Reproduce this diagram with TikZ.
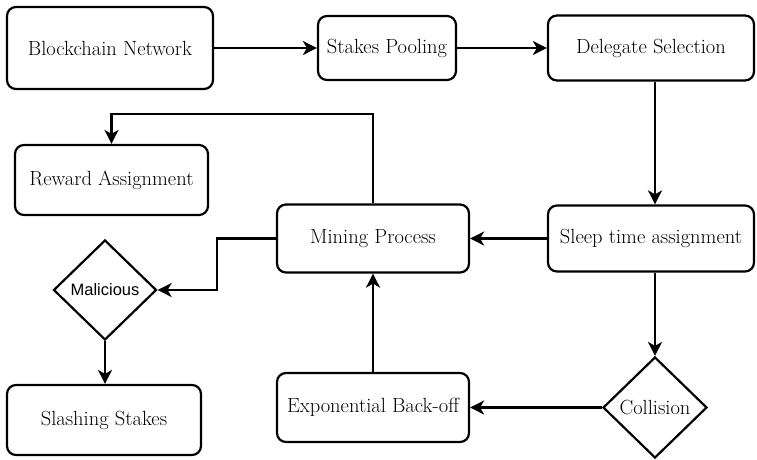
\documentclass[tikz,border=0pt]{standalone}
\usepackage{fontspec}
\newfontfamily\decfont{Liberation Sans}
\usetikzlibrary{arrows.meta,shapes.geometric}

\begin{document}
\begin{tikzpicture}[x=1pt, y=-1pt,
  box/.style={draw=black, line width=2.2pt, rounded corners=9pt, inner sep=0pt, align=center, font=\fontsize{20.5}{24}\selectfont},
  decision/.style={diamond, draw=black, line width=2.2pt, inner sep=0pt, aspect=1, align=center},
  arrow/.style={-{Stealth[length=14pt, width=14pt, inset=4pt]}, black, line width=2.2pt}
]
  \useasboundingbox (0,0) rectangle (757,459);

  % Top row
  \node[box, minimum width=206pt, minimum height=82pt] (chain) at (110,48) {Blockchain Network};
  \node[box, minimum width=138pt, minimum height=64pt] (pool) at (387,48) {Stakes Pooling};
  \node[box, minimum width=206pt, minimum height=65pt] (deleg) at (651,48) {Delegate Selection};

  % Middle row
  \node[box, minimum width=193pt, minimum height=70pt] (reward) at (111.5,180) {Reward Assignment};
  \node[box, minimum width=192pt, minimum height=68pt] (mine) at (373,238.5) {Mining Process};
  \node[box, minimum width=206pt, minimum height=66pt] (sleep) at (651,238.5) {Sleep time assignment};

  % Bottom row
  \node[decision, minimum width=103pt, minimum height=100pt, font=\decfont\fontsize{16.5}{20}\selectfont] (malic) at (105,290) {Malicious};
  \node[box, minimum width=194pt, minimum height=70pt] (slash) at (104,420) {Slashing Stakes};
  \node[box, minimum width=192pt, minimum height=69pt] (expo) at (373,407.5) {Exponential Back-off};
  \node[decision, minimum width=104pt, minimum height=101pt, font=\fontsize{20.5}{24}\selectfont] (coll) at (655,407.5) {Collision};

  \coordinate (rewturn) at (373,114);
  \coordinate (malturn) at (217,238.5);

  \draw[arrow] (chain) -- (pool);
  \draw[arrow] (pool) -- (deleg);
  \draw[arrow] (deleg.south -| coll) -- (sleep.north -| coll);
  \draw[arrow] (sleep) -- (mine);
  \draw[arrow] (sleep.south -| coll) -- (coll.north);
  \draw[arrow] (coll) -- (expo);
  \draw[arrow] (expo) -- (mine);
  \draw[arrow] (mine.north) -- (rewturn) -| (reward.north);
  \draw[arrow] (mine.west) -- (malturn) |- (malic.east);
  \draw[arrow] (malic.south) -- (malic.south |- slash.north);
\end{tikzpicture}
\end{document}
